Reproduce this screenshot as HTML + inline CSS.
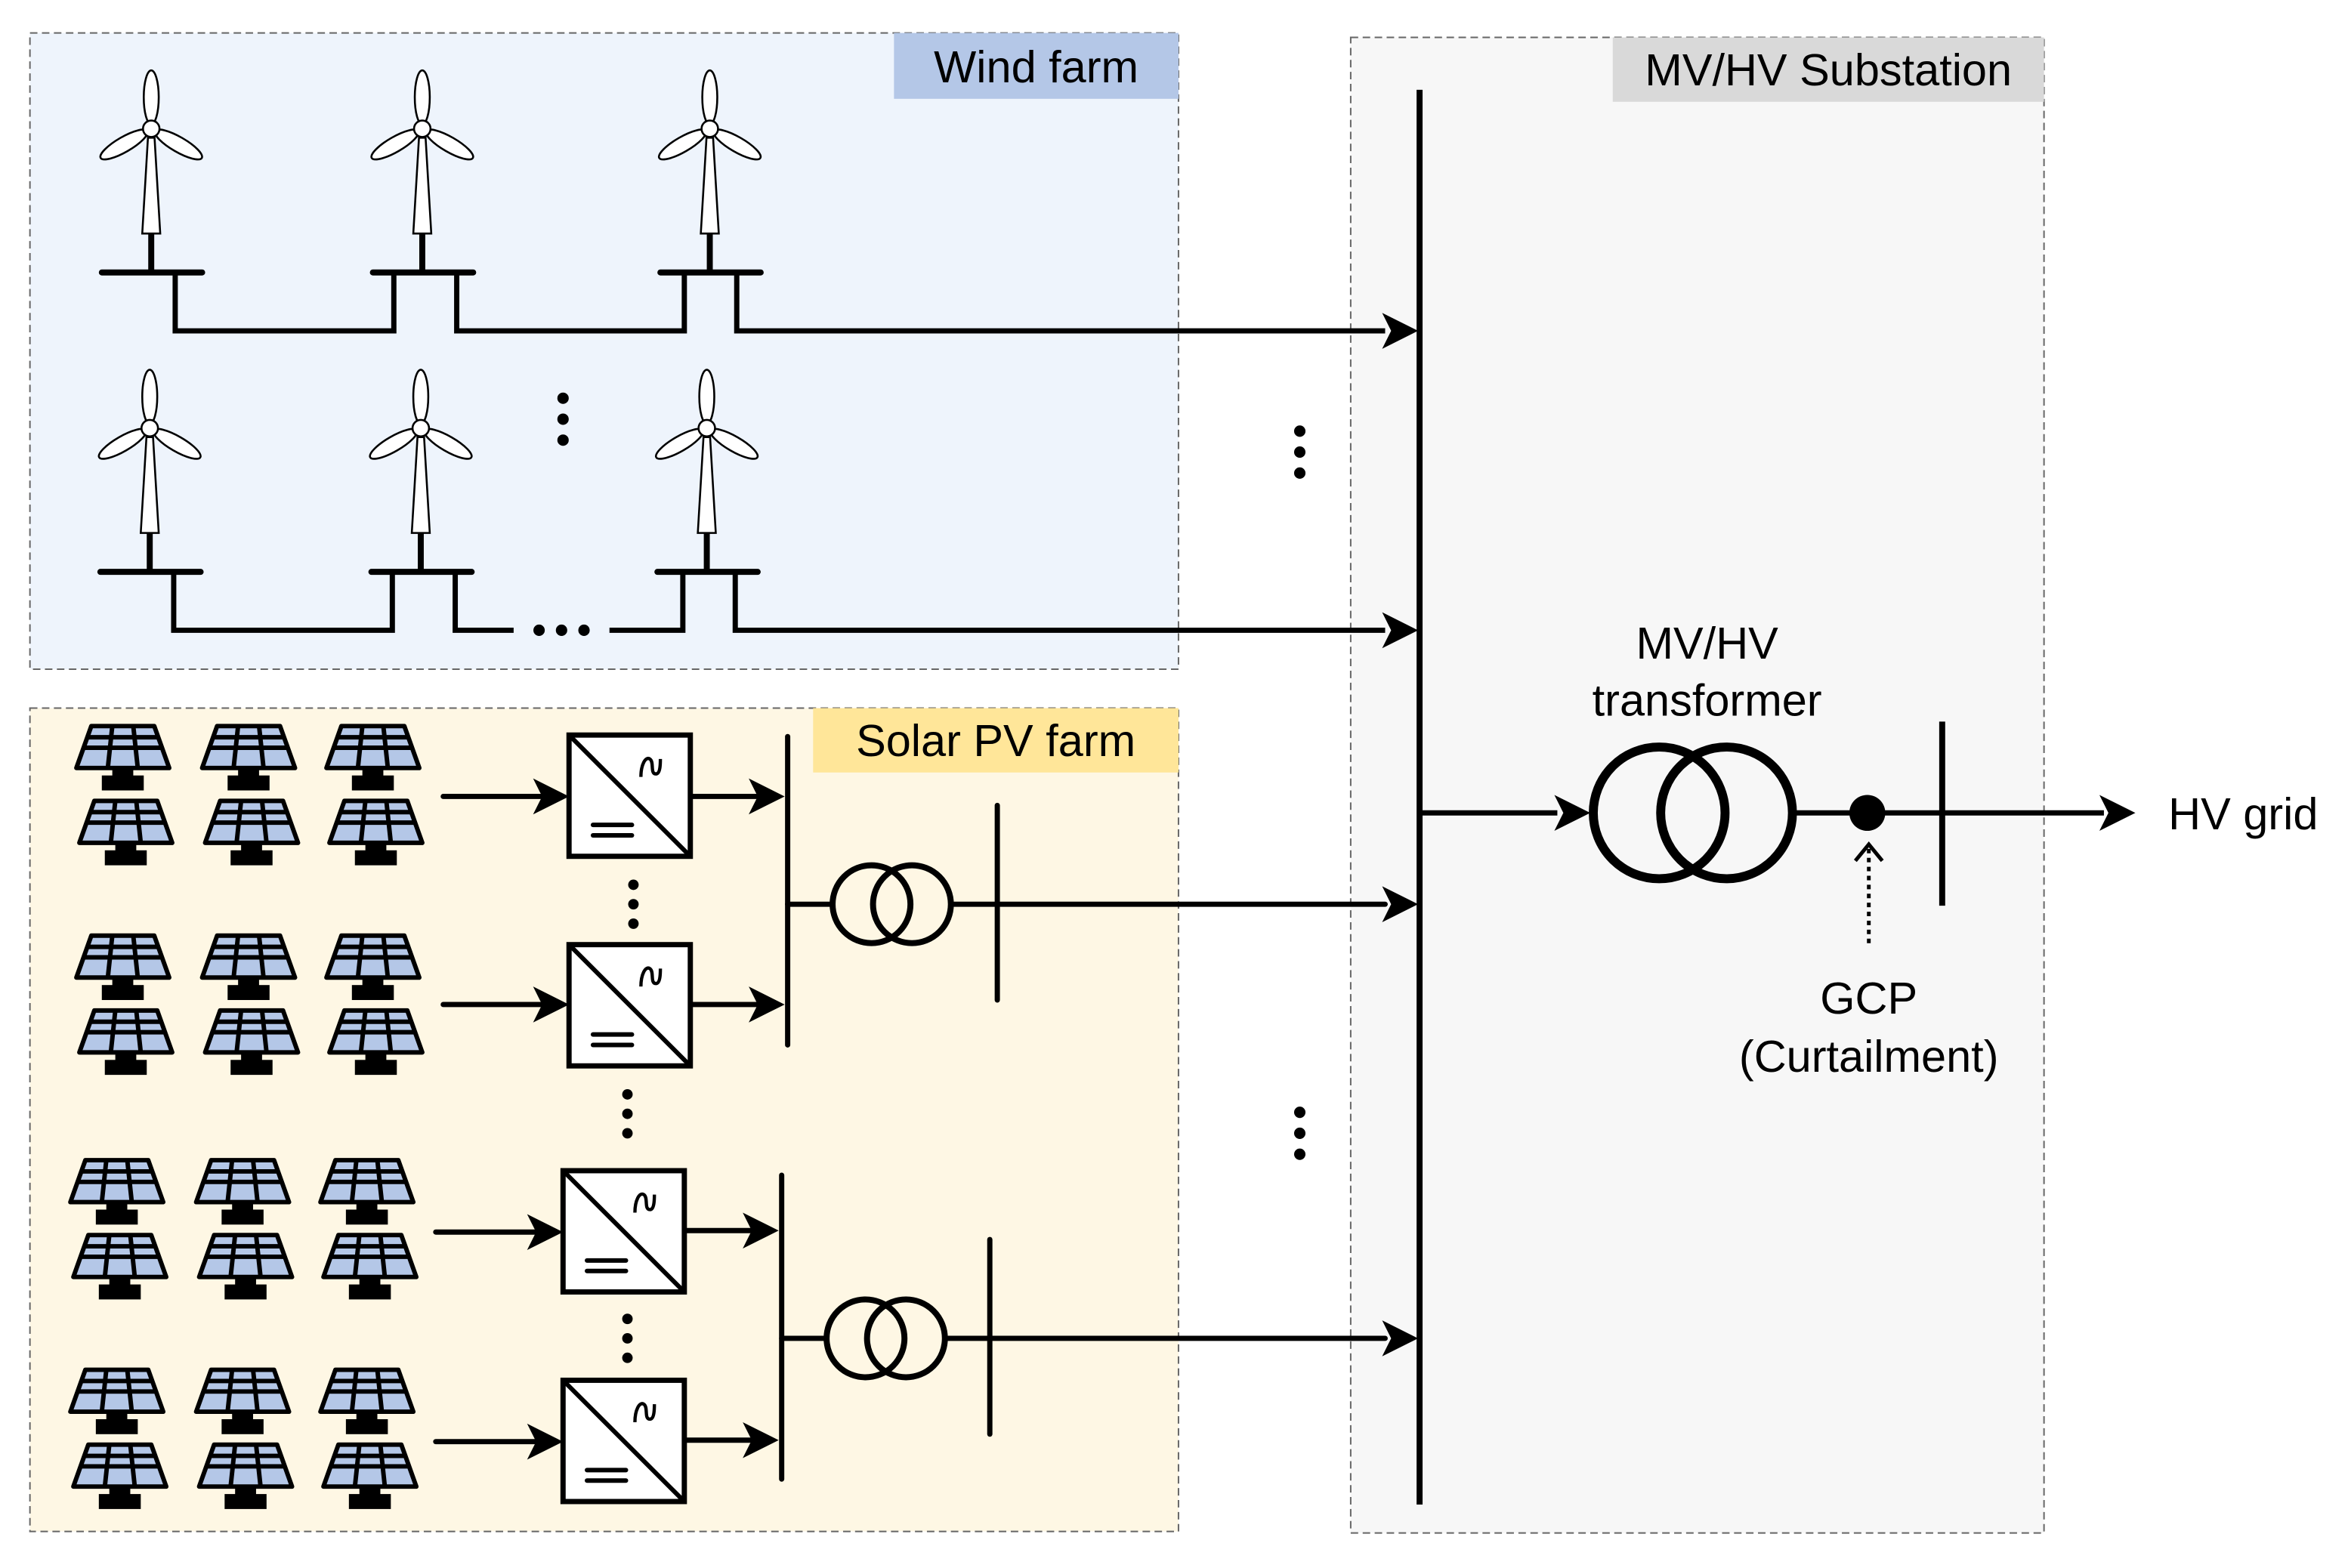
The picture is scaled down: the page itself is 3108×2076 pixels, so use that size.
<!DOCTYPE html>
<html><head><meta charset="utf-8"><style>
html,body{margin:0;padding:0;background:#fff}
svg{display:block}
text{font-family:"Liberation Sans",Arial,sans-serif;fill:#000}
</style></head><body>
<svg width="3108" height="2076" viewBox="0 0 1568 1047.4" preserveAspectRatio="none" xmlns="http://www.w3.org/2000/svg">
<defs>
<g id="wt">
<g fill="#fff" stroke="#000" stroke-width="1.3">
<polygon points="-2.2,6 2.2,6 6,70 -6,70"/>
<ellipse cx="0" cy="-21" rx="5" ry="18"/>
<ellipse cx="0" cy="-21" rx="5" ry="18" transform="rotate(120)"/>
<ellipse cx="0" cy="-21" rx="5" ry="18" transform="rotate(240)"/>
<circle cx="0" cy="0" r="5.5"/>
</g>
<line x1="0" y1="70" x2="0" y2="96" stroke="#000" stroke-width="4"/>
<line x1="-33" y1="96" x2="34" y2="96" stroke="#000" stroke-width="4" stroke-linecap="round"/>
</g>
<g id="pv">
<polygon points="-21,1 21,1 31,29 -31,29" fill="#b4c7e7" stroke="#000" stroke-width="3" stroke-linejoin="round"/>
<g stroke="#000" stroke-width="3">
<line x1="-7" y1="1" x2="-10" y2="29"/><line x1="7" y1="1" x2="10" y2="29"/>
<line x1="-23.5" y1="8.5" x2="23.5" y2="8.5"/><line x1="-26" y1="15.5" x2="26" y2="15.5"/>
</g>
<rect x="-7" y="29" width="14" height="6" fill="#000"/>
<rect x="-14" y="34" width="28" height="10" fill="#000"/>
</g>
<g id="conv">
<rect x="0" y="0" width="81" height="81" fill="#fff" stroke="#000" stroke-width="3.5"/>
<line x1="1" y1="1" x2="80" y2="80" stroke="#000" stroke-width="3"/>
<line x1="16" y1="60" x2="42" y2="60" stroke="#000" stroke-width="3" stroke-linecap="round"/>
<line x1="16" y1="67" x2="42" y2="67" stroke="#000" stroke-width="3" stroke-linecap="round"/>
<path d="M48,28 C48,20 51,14 54,16 C57,18 54,26 58,26 C61,26 61,19 61,16" fill="none" stroke="#000" stroke-width="2.2"/>
</g>
<g id="tr">
<circle cx="0" cy="0" r="26" fill="none" stroke="#000" stroke-width="4"/>
<circle cx="27" cy="0" r="26" fill="none" stroke="#000" stroke-width="4"/>
</g>
<polygon id="ar" points="0,0 -24,-12 -18,0 -24,12" fill="#000"/>
</defs>

<rect x="20" y="22" width="767" height="425" fill="#eef4fc" stroke="#666" stroke-width="1" stroke-dasharray="5,3"/>
<rect x="597" y="22" width="190" height="44" fill="#b4c7e7"/>
<text x="692" y="55" font-size="30" text-anchor="middle">Wind farm</text>

<rect x="20" y="473" width="767" height="550" fill="#fef7e4" stroke="#666" stroke-width="1" stroke-dasharray="5,3"/>
<rect x="543" y="473" width="244" height="43" fill="#ffe699"/>
<text x="665" y="505" font-size="30" text-anchor="middle">Solar PV farm</text>

<rect x="902" y="25" width="463" height="999" fill="#f7f7f7" stroke="#666" stroke-width="1" stroke-dasharray="5,3"/>
<rect x="1077" y="25" width="288" height="43" fill="#d9d9d9"/>
<text x="1221" y="57" font-size="30" text-anchor="middle">MV/HV Substation</text>

<line x1="948" y1="60" x2="948" y2="1005" stroke="#000" stroke-width="4"/>

<use href="#wt" x="101" y="86"/><use href="#wt" x="282" y="86"/><use href="#wt" x="474" y="86"/>
<use href="#wt" x="100" y="286"/><use href="#wt" x="281" y="286"/><use href="#wt" x="472" y="286"/>
<g fill="none" stroke="#000" stroke-width="3.5">
<path d="M117,182 V221 H263 V182"/><path d="M305,182 V221 H457 V182"/><path d="M492,182 V221 H925"/>
<path d="M116,382 V421 H262 V382"/><path d="M304,382 V421 H343"/><path d="M407,421 H456 V382"/><path d="M491,382 V421 H925"/>
</g>
<use href="#ar" x="947" y="221"/><use href="#ar" x="947" y="421"/>
<g fill="#000">
<circle cx="360" cy="421" r="3.8"/><circle cx="375" cy="421" r="3.8"/><circle cx="390" cy="421" r="3.8"/>
<circle cx="376" cy="266" r="3.8"/><circle cx="376" cy="280" r="3.8"/><circle cx="376" cy="294" r="3.8"/>
<circle cx="868" cy="288" r="3.8"/><circle cx="868" cy="302" r="3.8"/><circle cx="868" cy="316" r="3.8"/>
<circle cx="868" cy="743" r="3.8"/><circle cx="868" cy="757" r="3.8"/><circle cx="868" cy="771" r="3.8"/>
<circle cx="423" cy="591" r="3.5"/><circle cx="423" cy="604" r="3.5"/><circle cx="423" cy="617" r="3.5"/>
<circle cx="419" cy="731" r="3.5"/><circle cx="419" cy="744" r="3.5"/><circle cx="419" cy="757" r="3.5"/>
<circle cx="419" cy="881" r="3.5"/><circle cx="419" cy="894" r="3.5"/><circle cx="419" cy="907" r="3.5"/>
</g>

<g>
<use href="#pv" x="82" y="484"/><use href="#pv" x="166" y="484"/><use href="#pv" x="249" y="484"/>
<use href="#pv" x="84" y="534"/><use href="#pv" x="168" y="534"/><use href="#pv" x="251" y="534"/>
<use href="#pv" x="82" y="624"/><use href="#pv" x="166" y="624"/><use href="#pv" x="249" y="624"/>
<use href="#pv" x="84" y="674"/><use href="#pv" x="168" y="674"/><use href="#pv" x="251" y="674"/>
<use href="#pv" x="78" y="774"/><use href="#pv" x="162" y="774"/><use href="#pv" x="245" y="774"/>
<use href="#pv" x="80" y="824"/><use href="#pv" x="164" y="824"/><use href="#pv" x="247" y="824"/>
<use href="#pv" x="78" y="914"/><use href="#pv" x="162" y="914"/><use href="#pv" x="245" y="914"/>
<use href="#pv" x="80" y="964"/><use href="#pv" x="164" y="964"/><use href="#pv" x="247" y="964"/>
</g>

<use href="#conv" x="380" y="491"/><use href="#conv" x="380" y="631"/>
<use href="#conv" x="376" y="782"/><use href="#conv" x="376" y="922"/>
<g stroke="#000" stroke-width="3.5" fill="none" stroke-linecap="round">
<line x1="296" y1="532" x2="362" y2="532"/><line x1="296" y1="671" x2="362" y2="671"/>
<line x1="291" y1="823" x2="358" y2="823"/><line x1="291" y1="963" x2="358" y2="963"/>
<line x1="462" y1="532" x2="505" y2="532"/><line x1="462" y1="671" x2="505" y2="671"/>
<line x1="458" y1="822" x2="501" y2="822"/><line x1="458" y1="962" x2="501" y2="962"/>
<line x1="526" y1="492" x2="526" y2="698"/><line x1="522" y1="785" x2="522" y2="988"/>
<line x1="666" y1="538" x2="666" y2="668"/><line x1="661" y1="828" x2="661" y2="958"/>
<line x1="526" y1="604" x2="556" y2="604"/><line x1="636" y1="604" x2="925" y2="604"/>
<line x1="522" y1="894" x2="552" y2="894"/><line x1="632" y1="894" x2="925" y2="894"/>
</g>
<use href="#ar" x="380" y="532"/><use href="#ar" x="380" y="671"/>
<use href="#ar" x="376" y="823"/><use href="#ar" x="376" y="963"/>
<use href="#ar" x="524" y="532"/><use href="#ar" x="524" y="671"/>
<use href="#ar" x="520" y="822"/><use href="#ar" x="520" y="962"/>
<use href="#tr" x="582" y="604"/><use href="#tr" x="578" y="894"/>
<use href="#ar" x="947" y="604"/><use href="#ar" x="947" y="894"/>

<g stroke="#000" fill="none">
<line x1="948" y1="543" x2="1040" y2="543" stroke-width="3.5"/>
<circle cx="1108" cy="543" r="44" stroke-width="6"/>
<circle cx="1153" cy="543" r="44" stroke-width="6"/>
<line x1="1197" y1="543" x2="1405" y2="543" stroke-width="3.5"/>
<line x1="1297" y1="482" x2="1297" y2="605" stroke-width="4"/>
<line x1="1248" y1="630" x2="1248" y2="566" stroke-width="2.5" stroke-dasharray="3,3"/>
<polyline points="1239,575 1248,564 1257,575" stroke-width="2.5"/>
</g>
<use href="#ar" x="1062" y="543"/><use href="#ar" x="1426" y="543"/>
<circle cx="1247" cy="543" r="12" fill="#000"/>
<text x="1140" y="440" font-size="30" text-anchor="middle">MV/HV</text>
<text x="1140" y="478" font-size="30" text-anchor="middle">transformer</text>
<text x="1448" y="554" font-size="30">HV grid</text>
<text x="1248" y="677" font-size="30" text-anchor="middle">GCP</text>
<text x="1248" y="716" font-size="30" text-anchor="middle">(Curtailment)</text>
</svg>
</body></html>
